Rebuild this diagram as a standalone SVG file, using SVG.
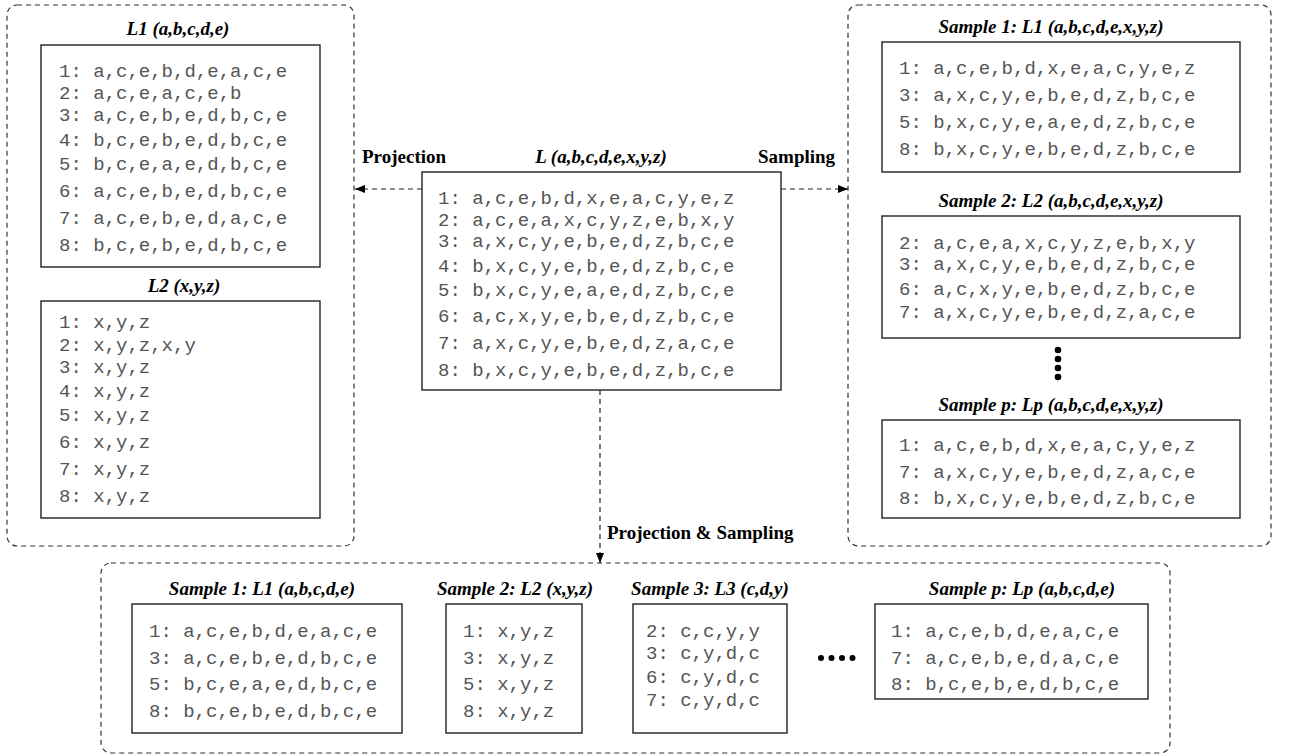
<svg xmlns="http://www.w3.org/2000/svg" width="1289" height="756" viewBox="0 0 1289 756">
  <style>
    .panel { fill: none; stroke: #333; stroke-width: 1.2; stroke-dasharray: 5 4; }
    .box { fill: #fff; stroke: #222; stroke-width: 1.4; }
    .title { font-family: "Liberation Serif", "Times New Roman", serif; font-size: 19px; font-weight: bold; font-style: italic; fill: #000; text-anchor: middle; }
    .lbl { font-family: "Liberation Serif", "Times New Roman", serif; font-size: 19px; font-weight: bold; fill: #000; }
    .seq { font-family: "Liberation Mono", "Courier New", monospace; font-size: 19px; fill: #555; white-space: pre; }
    .link { fill: none; stroke: #222; stroke-width: 1.2; stroke-dasharray: 5 4; }
    .dot { fill: #000; }
  </style>
  <defs>
    <marker id="arrow" viewBox="0 0 10 8" refX="10" refY="4" markerWidth="10" markerHeight="8" markerUnits="userSpaceOnUse" orient="auto">
      <path d="M0,0 L10,4 L0,8 Z" fill="#000"/>
    </marker>
  </defs>

  <rect width="1289" height="756" fill="#fff"/>

  <!-- dashed containers -->
  <g id="panels">
    <rect class="panel" x="7" y="5" width="347" height="541" rx="10"/>
    <rect class="panel" x="848" y="5" width="423" height="541" rx="10"/>
    <rect class="panel" x="101" y="563" width="1069" height="190" rx="10"/>
  </g>

  <!-- projection: L1 -->
  <g id="node-L1">
    <text class="title" x="178" y="35">L1 (a,b,c,d,e)</text>
    <rect class="box" x="41" y="45" width="279" height="222"/>
    <text class="seq" x="59">
      <tspan x="59" y="77">1: a,c,e,b,d,e,a,c,e</tspan>
      <tspan x="59" y="99">2: a,c,e,a,c,e,b</tspan>
      <tspan x="59" y="121">3: a,c,e,b,e,d,b,c,e</tspan>
      <tspan x="59" y="146">4: b,c,e,b,e,d,b,c,e</tspan>
      <tspan x="59" y="170">5: b,c,e,a,e,d,b,c,e</tspan>
      <tspan x="59" y="197">6: a,c,e,b,e,d,b,c,e</tspan>
      <tspan x="59" y="224">7: a,c,e,b,e,d,a,c,e</tspan>
      <tspan x="59" y="251">8: b,c,e,b,e,d,b,c,e</tspan>
    </text>
  </g>

  <!-- projection: L2 -->
  <g id="node-L2">
    <text class="title" x="184" y="292">L2 (x,y,z)</text>
    <rect class="box" x="41" y="301" width="279" height="217"/>
    <text class="seq">
      <tspan x="59" y="328">1: x,y,z</tspan>
      <tspan x="59" y="351">2: x,y,z,x,y</tspan>
      <tspan x="59" y="373">3: x,y,z</tspan>
      <tspan x="59" y="397">4: x,y,z</tspan>
      <tspan x="59" y="421">5: x,y,z</tspan>
      <tspan x="59" y="448">6: x,y,z</tspan>
      <tspan x="59" y="475">7: x,y,z</tspan>
      <tspan x="59" y="502">8: x,y,z</tspan>
    </text>
  </g>

  <!-- source log L -->
  <g id="node-L">
    <text class="title" x="601" y="163">L (a,b,c,d,e,x,y,z)</text>
    <rect class="box" x="422" y="172" width="359" height="218"/>
    <text class="seq">
      <tspan x="438" y="204">1: a,c,e,b,d,x,e,a,c,y,e,z</tspan>
      <tspan x="438" y="226">2: a,c,e,a,x,c,y,z,e,b,x,y</tspan>
      <tspan x="438" y="247">3: a,x,c,y,e,b,e,d,z,b,c,e</tspan>
      <tspan x="438" y="272">4: b,x,c,y,e,b,e,d,z,b,c,e</tspan>
      <tspan x="438" y="296">5: b,x,c,y,e,a,e,d,z,b,c,e</tspan>
      <tspan x="438" y="322">6: a,c,x,y,e,b,e,d,z,b,c,e</tspan>
      <tspan x="438" y="349">7: a,x,c,y,e,b,e,d,z,a,c,e</tspan>
      <tspan x="438" y="376">8: b,x,c,y,e,b,e,d,z,b,c,e</tspan>
    </text>
  </g>

  <!-- sampling: sample 1 -->
  <g id="node-S1">
    <text class="title" x="1051" y="33">Sample 1: L1 (a,b,c,d,e,x,y,z)</text>
    <rect class="box" x="882" y="42" width="358" height="130"/>
    <text class="seq">
      <tspan x="899" y="74">1: a,c,e,b,d,x,e,a,c,y,e,z</tspan>
      <tspan x="899" y="101">3: a,x,c,y,e,b,e,d,z,b,c,e</tspan>
      <tspan x="899" y="128">5: b,x,c,y,e,a,e,d,z,b,c,e</tspan>
      <tspan x="899" y="155">8: b,x,c,y,e,b,e,d,z,b,c,e</tspan>
    </text>
  </g>

  <!-- sampling: sample 2 -->
  <g id="node-S2">
    <text class="title" x="1051" y="207">Sample 2: L2 (a,b,c,d,e,x,y,z)</text>
    <rect class="box" x="882" y="216" width="358" height="122"/>
    <text class="seq">
      <tspan x="899" y="249">2: a,c,e,a,x,c,y,z,e,b,x,y</tspan>
      <tspan x="899" y="270">3: a,x,c,y,e,b,e,d,z,b,c,e</tspan>
      <tspan x="899" y="295">6: a,c,x,y,e,b,e,d,z,b,c,e</tspan>
      <tspan x="899" y="318">7: a,x,c,y,e,b,e,d,z,a,c,e</tspan>
    </text>
  </g>

  <!-- vertical ellipsis between samples -->
  <g id="ellipsis-right">
    <circle class="dot" cx="1058" cy="350" r="3.3"/>
    <circle class="dot" cx="1058" cy="359" r="3.3"/>
    <circle class="dot" cx="1058" cy="368" r="3.3"/>
    <circle class="dot" cx="1058" cy="377" r="3.3"/>
  </g>

  <!-- sampling: sample p -->
  <g id="node-Sp">
    <text class="title" x="1051" y="411">Sample p: Lp (a,b,c,d,e,x,y,z)</text>
    <rect class="box" x="882" y="420" width="358" height="98"/>
    <text class="seq">
      <tspan x="899" y="451">1: a,c,e,b,d,x,e,a,c,y,e,z</tspan>
      <tspan x="899" y="478">7: a,x,c,y,e,b,e,d,z,a,c,e</tspan>
      <tspan x="899" y="504">8: b,x,c,y,e,b,e,d,z,b,c,e</tspan>
    </text>
  </g>

  <!-- projection & sampling: sample 1 -->
  <g id="node-PS1">
    <text class="title" x="262" y="595">Sample 1: L1 (a,b,c,d,e)</text>
    <rect class="box" x="132" y="604" width="270" height="129"/>
    <text class="seq">
      <tspan x="149" y="637">1: a,c,e,b,d,e,a,c,e</tspan>
      <tspan x="149" y="664">3: a,c,e,b,e,d,b,c,e</tspan>
      <tspan x="149" y="690">5: b,c,e,a,e,d,b,c,e</tspan>
      <tspan x="149" y="717">8: b,c,e,b,e,d,b,c,e</tspan>
    </text>
  </g>

  <!-- projection & sampling: sample 2 -->
  <g id="node-PS2">
    <text class="title" x="515" y="595">Sample 2: L2 (x,y,z)</text>
    <rect class="box" x="446" y="604" width="136" height="129"/>
    <text class="seq">
      <tspan x="463" y="637">1: x,y,z</tspan>
      <tspan x="463" y="664">3: x,y,z</tspan>
      <tspan x="463" y="690">5: x,y,z</tspan>
      <tspan x="463" y="717">8: x,y,z</tspan>
    </text>
  </g>

  <!-- projection & sampling: sample 3 -->
  <g id="node-PS3">
    <text class="title" x="710" y="595">Sample 3: L3 (c,d,y)</text>
    <rect class="box" x="633" y="604" width="154" height="129"/>
    <text class="seq">
      <tspan x="646" y="637">2: c,c,y,y</tspan>
      <tspan x="646" y="659">3: c,y,d,c</tspan>
      <tspan x="646" y="683">6: c,y,d,c</tspan>
      <tspan x="646" y="706">7: c,y,d,c</tspan>
    </text>
  </g>

  <!-- horizontal ellipsis -->
  <g id="ellipsis-bottom">
    <circle class="dot" cx="821" cy="658" r="3"/>
    <circle class="dot" cx="831.5" cy="658" r="3"/>
    <circle class="dot" cx="842" cy="658" r="3"/>
    <circle class="dot" cx="852.5" cy="658" r="3"/>
  </g>

  <!-- projection & sampling: sample p -->
  <g id="node-PSp">
    <text class="title" x="1022" y="595">Sample p: Lp (a,b,c,d,e)</text>
    <rect class="box" x="875" y="604" width="273" height="95"/>
    <text class="seq">
      <tspan x="891" y="637">1: a,c,e,b,d,e,a,c,e</tspan>
      <tspan x="891" y="664">7: a,c,e,b,e,d,a,c,e</tspan>
      <tspan x="891" y="690">8: b,c,e,b,e,d,b,c,e</tspan>
    </text>
  </g>

  <!-- connectors -->
  <g id="connectors">
    <path class="link" d="M422,189 H355" marker-end="url(#arrow)"/>
    <path class="link" d="M781,189 H848" marker-end="url(#arrow)"/>
    <path class="link" d="M600,390 V563" marker-end="url(#arrow)"/>
    <text class="lbl" x="362" y="163">Projection</text>
    <text class="lbl" x="758" y="163">Sampling</text>
    <text class="lbl" x="607" y="539">Projection &amp; Sampling</text>
  </g>
</svg>
